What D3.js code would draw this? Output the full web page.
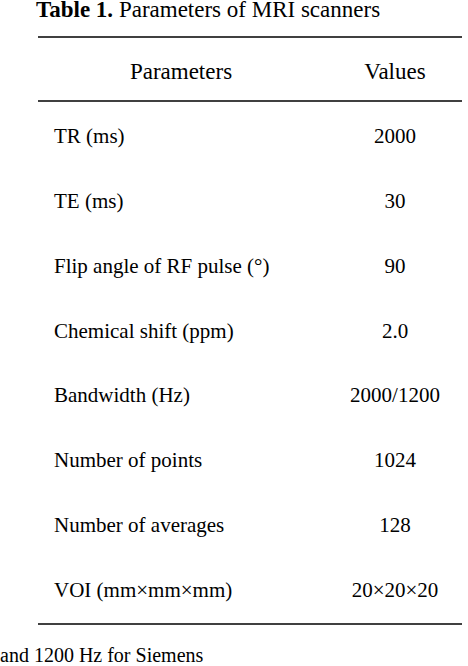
<!DOCTYPE html>
<html><head><meta charset="utf-8">
<script src="https://cdn.jsdelivr.net/npm/d3@7"></script>
<style>body{margin:0;background:#fff}svg{display:block}</style>
</head><body>
<script>
const parameters = ["TR (ms)","TE (ms)","Flip angle of RF pulse (°)","Chemical shift (ppm)","Bandwidth (Hz)","Number of points","Number of averages","VOI (mm×mm×mm)"];
const values = ["2000","30","90","2.0","2000/1200","1024","128","20×20×20"];
const headers = ["Parameters","Values"];

const W=468,H=666;
const svg=d3.select("body").append("svg").attr("width",W).attr("height",H);
const font="Liberation Serif, Times New Roman, serif";
const y=d3.scaleBand().domain(parameters).range([104,622]);

const t=svg.append("text").attr("x",36).attr("y",17).attr("font-family",font).attr("font-size",23).attr("fill","#000");
t.append("tspan").attr("font-weight","bold").text("Table 1. ");
t.append("tspan").text("Parameters of MRI scanners");

[37,101,624].forEach(v=>svg.append("line").attr("x1",38).attr("x2",462).attr("y1",v).attr("y2",v).attr("stroke","#000").attr("stroke-width",1.5));

svg.append("text").attr("x",181).attr("y",79).attr("text-anchor","middle").attr("font-family",font).attr("font-size",23).text(headers[0]);
svg.append("text").attr("x",395).attr("y",79).attr("text-anchor","middle").attr("font-family",font).attr("font-size",23).text(headers[1]);

svg.selectAll("text.p").data(parameters).join("text").attr("class","p")
 .attr("x",54).attr("y",d=>y(d)+y.bandwidth()/2+7).attr("font-family",font).attr("font-size",21).text(d=>d);
svg.selectAll("text.v").data(values).join("text").attr("class","v")
 .attr("x",395).attr("text-anchor","middle").attr("y",(d,i)=>y(parameters[i])+y.bandwidth()/2+7).attr("font-family",font).attr("font-size",21).text(d=>d);

svg.append("text").attr("x",0).attr("y",662).attr("font-family",font).attr("font-size",20).text("and 1200 Hz for Siemens");
</script>
</body></html>
